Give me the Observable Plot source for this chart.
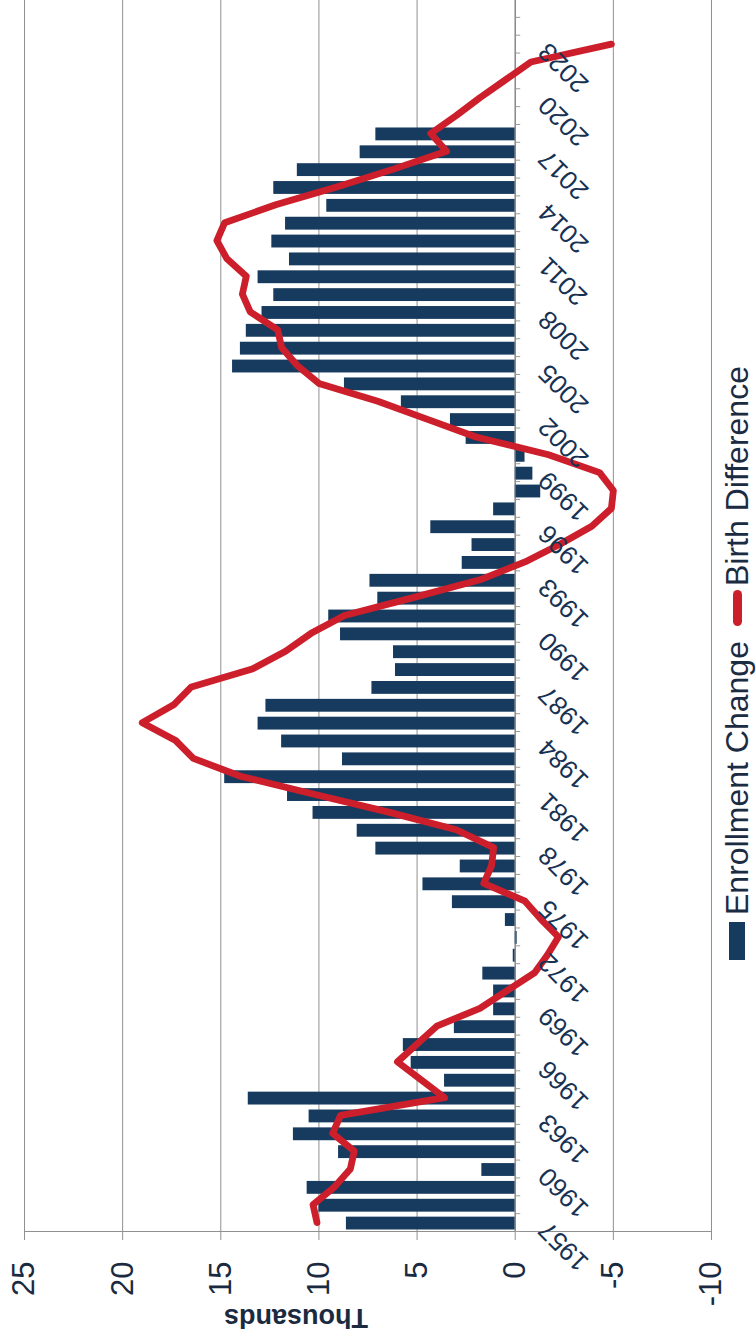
<!DOCTYPE html>
<html>
<head>
<meta charset="utf-8">
<script src="https://cdn.jsdelivr.net/npm/d3@7"></script>
<script src="https://cdn.jsdelivr.net/npm/@observablehq/plot@0.6"></script>
<style>
  html, body { margin: 0; padding: 0; background: #fff; width: 756px; height: 1336px; overflow: hidden; }
  #wrap {
    position: absolute; left: 0; top: 0; width: 1336px; height: 756px;
    transform-origin: 0 0; transform: translate(0px, 1336px) rotate(-90deg);
    font-family: "Liberation Sans", Arial, sans-serif; background: #fff;
  }
  #chart svg { display: block; }
  .lg { position: absolute; white-space: nowrap; }
  .lgtext { font-size: 32px; line-height: 32px; color: #1a2b42; top: 721px; }
</style>
</head>
<body>
<div id="wrap">
  <div id="chart"></div>
  <div class="lg" style="left:376px; top:729px; width:38px; height:16px; background:#173b5f;"></div>
  <div class="lg lgtext" style="left:421px;" id="lg1"></div>
  <div class="lg" style="left:710px; top:733px; width:36px; height:9px; border-radius:5px; background:#cc1f2b;"></div>
  <div class="lg lgtext" style="left:750px;" id="lg2"></div>
</div>
<script>
// ---- data (thousands) ----
const enrollYears = [1957,1958,1959,1960,1961,1962,1963,1964,1965,1966,
  1967,1968,1969,1970,1971,1972,1973,1974,1975,1976,
  1977,1978,1979,1980,1981,1982,1983,1984,1985,1986,
  1987,1988,1989,1990,1991,1992,1993,1994,1995,1996,
  1997,1998,1999,2000,2001,2002,2003,2004,2005,2006,
  2007,2008,2009,2010,2011,2012,2013,2014,2015,2016,
  2017,2018];
const enrollChange = [8.6,10.0,10.6,1.7,9.0,11.3,10.5,13.6,3.6,5.3,
  5.7,3.1,1.1,1.1,1.65,0.1,-0.1,0.5,3.2,4.7,
  2.8,7.1,8.05,10.3,11.6,14.8,8.8,11.9,13.1,12.7,
  7.3,6.1,6.2,8.9,9.5,7.0,7.4,2.7,2.2,4.3,
  1.1,-1.3,-0.9,-0.5,2.5,3.3,5.8,8.7,14.4,14.0,
  13.7,12.9,12.3,13.1,11.5,12.4,11.7,9.6,12.3,11.1,
  7.9,7.1];

const birthYears = [1957,1958,1959,1960,1961,1962,1963,1964,1965,1966,
  1967,1968,1969,1970,1971,1972,1973,1974,1975,1976,
  1977,1978,1979,1980,1981,1982,1983,1984,1985,1986,
  1987,1988,1989,1990,1991,1992,1993,1994,1995,1996,
  1997,1998,1999,2000,2001,2002,2003,2004,2005,2006,
  2007,2008,2009,2010,2011,2012,2013,2014,2015,2016,
  2017,2018,2019,2020,2021,2022,2023];
const birthDifference = [10.1,10.3,9.2,8.4,8.2,9.3,8.9,3.6,4.8,6.0,
  5.0,4.0,1.8,0.4,-1.0,-1.65,-2.2,-1.3,-0.5,1.6,
  1.2,1.1,3.0,6.5,10.3,14.0,16.4,17.3,19.0,17.4,
  16.5,13.4,11.7,10.4,8.7,5.2,1.8,-0.5,-2.3,-3.9,
  -4.9,-5.0,-4.3,-1.7,2.0,4.5,7.0,10.0,11.1,11.9,
  12.1,13.5,13.9,13.7,14.7,15.2,14.8,12.2,9.1,6.2,
  3.5,4.3,3.0,1.8,0.5,-0.8,-4.9];

const yearTickLabels = [1957,1960,1963,1966,1969,1972,1975,1978,1981,1984,
  1987,1990,1993,1996,1999,2002,2005,2008,2011,2014,2017,2020,2023];
const valueTicks = [25,20,15,10,5,0,-5,-10];
const seriesNames = ["Enrollment Change", "Birth Difference"];
const yearDomain = [1956.5, 2025.5];

const enroll = enrollYears.map((year, i) => ({year, value: enrollChange[i]}));
const births = birthYears.map((year, i) => ({year, value: birthDifference[i]}));
const boundaries = d3.range(yearDomain[0], yearDomain[1] + 0.01, 1);

const chart = Plot.plot({
  width: 1336,
  height: 756,
  marginLeft: 104,
  marginRight: 0,
  marginTop: 24,
  marginBottom: 45,
  style: {fontFamily: "Liberation Sans, Arial, sans-serif", background: "#fff"},
  x: {type: "linear", domain: yearDomain, axis: null},
  y: {domain: [-10, 25], axis: null},
  marks: [
    Plot.ruleY(valueTicks, {stroke: "#909090", strokeWidth: 1}),
    Plot.axisY(valueTicks, {anchor: "left", tickSize: 8, tickPadding: 22, fontSize: 31,
      stroke: "#909090", fill: "#1a2a40", tickFormat: d => String(d), label: null}),
    Plot.ruleX([yearDomain[0]], {stroke: "#909090", strokeWidth: 1}),
    Plot.rectY(enroll, {x1: d => d.year - 0.36, x2: d => d.year + 0.36, y: "value", fill: "#173b5f"}),
    Plot.ruleY([0], {stroke: "#7a7a7a", strokeWidth: 1}),
    Plot.ruleX(boundaries, {x: d => d, y1: 0, y2: -0.28, stroke: "#9a9a9a", strokeWidth: 1}),
    Plot.line(births, {x: "year", y: "value", stroke: "#cc1f2b", strokeWidth: 6.8,
      strokeLinejoin: "round", strokeLinecap: "round"}),
    Plot.text(yearTickLabels, {x: d => d, y: () => 0, text: d => String(d), rotate: -45,
      textAnchor: "end", dx: -3, dy: 28, fontSize: 26, fill: "#173152"}),
    Plot.text(["Thousands"], {frameAnchor: "left", dx: -86, rotate: -90, text: d => d,
      fontSize: 27, fontWeight: "bold", fill: "#1a2a40"})
  ]
});
document.getElementById("chart").appendChild(chart);
document.getElementById("lg1").textContent = seriesNames[0];
document.getElementById("lg2").textContent = seriesNames[1];
</script>
</body>
</html>
